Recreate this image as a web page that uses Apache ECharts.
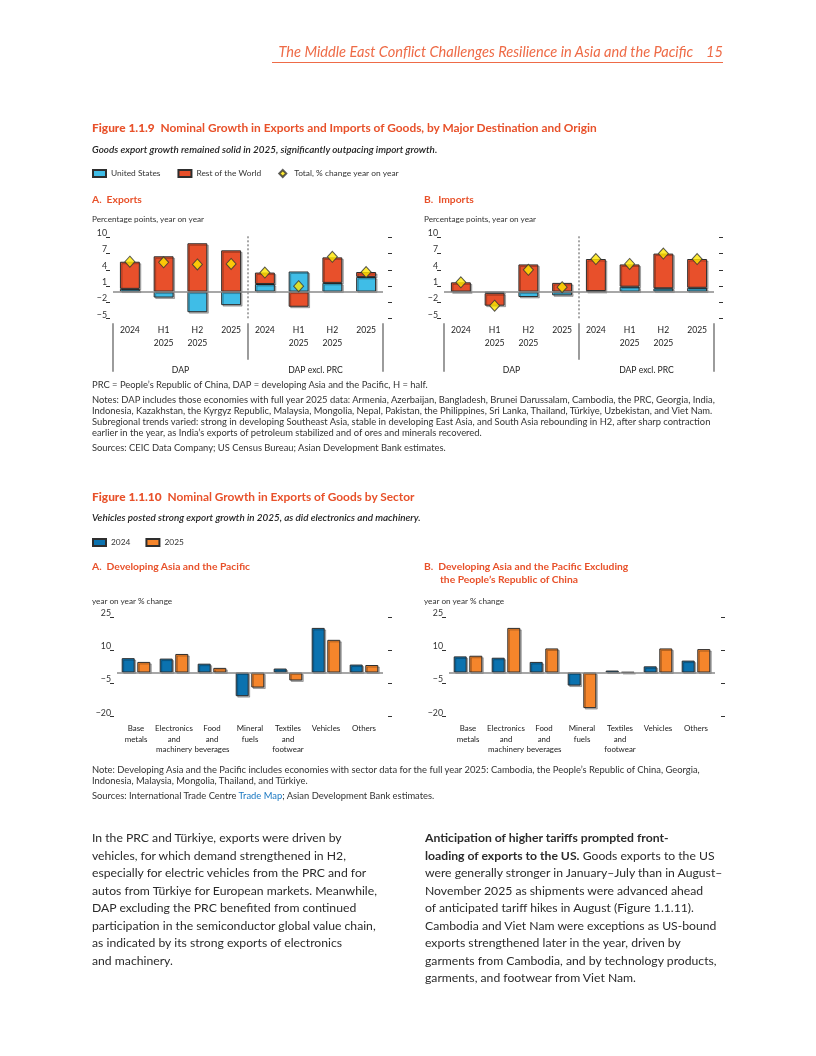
<!DOCTYPE html>
<html>
<head>
<meta charset="utf-8">
<script src="https://cdn.jsdelivr.net/npm/echarts@6/dist/echarts.min.js"></script>
<style>
  html,body{margin:0;padding:0;background:#fff;}
  #page{position:relative;width:816px;height:1056px;overflow:hidden;font-family:Lato,"Open Sans",sans-serif;}
  #chart{position:absolute;left:0;top:0;width:816px;height:1056px;}
  .t{position:absolute;white-space:nowrap;color:#333;line-height:1;z-index:2;}
  .hdr{right:93px;top:45px;font-size:14.6px;font-style:italic;color:#EE6B47;}
  .hline{position:absolute;left:272px;top:62px;width:451px;height:1px;background:#EE6B47;z-index:2;}
  .ftitle{font-size:11.9px;font-weight:700;color:#E8512A;}
  .ftitle b{font-weight:900;}
  .fsub{font-size:9.9px;font-style:italic;font-weight:600;color:#222;}
  .ptitle{font-size:10.3px;font-weight:700;color:#E8512A;line-height:13px;}
  .aname{font-size:8.2px;color:#333;}
  .note{font-size:9.4px;color:#333;line-height:11px;}
  .note p{margin:0 0 4px 0;}
  .body{font-size:12.2px;color:#2b2b2b;line-height:17.5px;}
  .blue{color:#1a78c2;}
</style>
</head>
<body>
<div id="page">
  <div id="chart"></div>
  <div class="t hdr">The Middle East Conflict Challenges Resilience in Asia and the Pacific<span style="margin-left:13px">15</span></div>
  <div class="hline"></div>

  <div class="t ftitle" style="left:92px;top:122px;"><b>Figure 1.1.9</b>&nbsp; Nominal Growth in Exports and Imports of Goods, by Major Destination and Origin</div>
  <div class="t fsub" style="left:92px;top:145px;">Goods export growth remained solid in 2025, significantly outpacing import growth.</div>
  <div class="t ptitle" style="left:92px;top:193px;">A.&nbsp; Exports</div>
  <div class="t ptitle" style="left:424px;top:193px;">B.&nbsp; Imports</div>
  <div class="t aname" style="left:92px;top:215px;">Percentage points, year on year</div>
  <div class="t aname" style="left:424px;top:215px;">Percentage points, year on year</div>

  <div class="t note" style="left:92px;top:379px;">
    <p>PRC = People’s Republic of China, DAP = developing Asia and the Pacific, H = half.</p>
    <p>Notes: DAP includes those economies with full year 2025 data: Armenia, Azerbaijan, Bangladesh, Brunei Darussalam, Cambodia, the PRC, Georgia, India,<br>Indonesia, Kazakhstan, the Kyrgyz Republic, Malaysia, Mongolia, Nepal, Pakistan, the Philippines, Sri Lanka, Thailand, Türkiye, Uzbekistan, and Viet Nam.<br>Subregional trends varied: strong in developing Southeast Asia, stable in developing East Asia, and South Asia rebounding in H2, after sharp contraction<br>earlier in the year, as India’s exports of petroleum stabilized and of ores and minerals recovered.</p>
    <p>Sources: CEIC Data Company; US Census Bureau; Asian Development Bank estimates.</p>
  </div>

  <div class="t ftitle" style="left:92px;top:491px;"><b>Figure 1.1.10</b>&nbsp; Nominal Growth in Exports of Goods by Sector</div>
  <div class="t fsub" style="left:92px;top:513px;">Vehicles posted strong export growth in 2025, as did electronics and machinery.</div>
  <div class="t ptitle" style="left:92px;top:560px;">A.&nbsp; Developing Asia and the Pacific</div>
  <div class="t ptitle" style="left:424px;top:560px;">B.&nbsp; Developing Asia and the Pacific Excluding<br><span style="margin-left:16px">the People’s Republic of China</span></div>
  <div class="t aname" style="left:92px;top:597px;">year on year % change</div>
  <div class="t aname" style="left:424px;top:597px;">year on year % change</div>

  <div class="t note" style="left:92px;top:764px;">
    <p>Note: Developing Asia and the Pacific includes economies with sector data for the full year 2025: Cambodia, the People’s Republic of China, Georgia,<br>Indonesia, Malaysia, Mongolia, Thailand, and Türkiye.</p>
    <p>Sources: International Trade Centre <span class="blue">Trade Map</span>; Asian Development Bank estimates.</p>
  </div>

  <div class="t body" style="left:92px;top:829px;">In the PRC and Türkiye, exports were driven by<br>vehicles, for which demand strengthened in H2,<br>especially for electric vehicles from the PRC and for<br>autos from Türkiye for European markets. Meanwhile,<br>DAP excluding the PRC benefited from continued<br>participation in the semiconductor global value chain,<br>as indicated by its strong exports of electronics<br>and machinery.</div>
  <div class="t body" style="left:425px;top:829px;"><b>Anticipation of higher tariffs prompted front-<br>loading of exports to the US.</b> Goods exports to the US<br>were generally stronger in January–July than in August–<br>November 2025 as shipments were advanced ahead<br>of anticipated tariff hikes in August (Figure 1.1.11).<br>Cambodia and Viet Nam were exceptions as US-bound<br>exports strengthened later in the year, driven by<br>garments from Cambodia, and by technology products,<br>garments, and footwear from Viet Nam.</div>
</div>
<script>
// ---- Figure 1.1.9 data ----
const periodCats = ['2024','H1\n2025','H2\n2025','2025','2024','H1\n2025','H2\n2025','2025'];
const groupCats = ['DAP','DAP excl. PRC'];
const expUS    = [0.5, -1.1, -3.8, -2.5, 1.4, 3.7, 1.6, 2.7];
const expROW   = [5.0,  6.5,  8.9,  7.6, 2.1, -2.8, 4.7, 0.9];
const expTotal = [5.5,  5.4,  5.0,  5.1, 3.5, 1.0, 6.4, 3.6];
const impUS    = [0.0, -0.3, -1.0, -0.7, 0.1, 0.9, 0.6, 0.7];
const impROW   = [1.7, -2.3,  5.0,  1.6, 5.9, 4.1, 6.4, 5.3];
const impTotal = [1.7, -2.6,  4.0,  0.8, 6.0, 5.1, 7.0, 6.0];
const growthTicks = {min:-5, max:10, interval:3};

// ---- Figure 1.1.10 data ----
const sectorCats = ['Base\nmetals','Electronics\nand\nmachinery','Food\nand\nbeverages','Mineral\nfuels','Textiles\nand\nfootwear','Vehicles','Others'];
const dap2024   = [6.5, 6.3, 4.0, -10.7, 1.8, 20.2, 3.6];
const dap2025   = [4.8, 8.4, 2.1,  -6.8, -3.6, 14.8, 3.4];
const exPRC2024 = [7.3, 6.7, 4.8,  -5.9, 0.9, 2.8, 5.4];
const exPRC2025 = [7.6, 20.2, 10.9, -16.1, 0.2, 10.9, 10.6];
const sectorTicks = {min:-20, max:25, interval:15};

const C_US = '#3FBDE7', C_ROW = '#E8502B', C_TOT = '#FFE600';
const C_24 = '#0B72AF', C_25 = '#F5852B';
const FONT = 'Lato, "Open Sans", sans-serif';

const chart = echarts.init(document.getElementById('chart'), null, {renderer:'canvas'});

const grids = [
  {left:113, top:237.3, width:270, height:81.4},
  {left:444, top:237.3, width:270, height:81.4},
  {left:117, top:617.3, width:266, height:99.4},
  {left:449, top:617.3, width:266, height:99.4}
];
const minusFmt = (v)=> String(v).replace('-', '\u2212');

function yPair(g, t, rOff){
  return [
    {type:'value', gridIndex:g, min:t.min, max:t.max, interval:t.interval, position:'left', offset:3,
     axisLine:{show:false}, axisTick:{show:true, length:4, lineStyle:{color:'#333', width:1}},
     axisLabel:{color:'#333', fontSize:8.8, margin:2, verticalAlign:'bottom', lineHeight:10, padding:[0,1,-1,0], formatter:minusFmt, fontFamily:FONT}, splitLine:{show:false}},
    {type:'value', gridIndex:g, min:t.min, max:t.max, interval:t.interval, position:'right', offset:rOff,
     axisLine:{show:false}, axisTick:{show:true, length:4, lineStyle:{color:'#333', width:1}},
     axisLabel:{show:false}, splitLine:{show:false}}
  ];
}
function xPeriod(g){
  return {type:'category', gridIndex:g, data:periodCats, position:'bottom',
    axisLine:{show:false}, axisTick:{show:false},
    axisLabel:{interval:0, color:'#222', fontSize:8.6, lineHeight:13, margin:5, fontFamily:FONT},
    splitLine:{show:false}};
}
function xGroup(g){
  return {type:'category', gridIndex:g, data:groupCats, position:'bottom', offset:4,
    axisLine:{show:false}, axisTick:{show:false},
    axisLabel:{interval:0, color:'#222', fontSize:8.6, margin:43, fontFamily:FONT}};
}
function xSector(g){
  return {type:'category', gridIndex:g, data:sectorCats, position:'bottom',
    axisLine:{show:false}, axisTick:{show:false},
    axisLabel:{interval:0, color:'#222', fontSize:7.9, lineHeight:10.5, margin:7, fontFamily:FONT}};
}
const zeroLine = {silent:true, symbol:'none', label:{show:false}, lineStyle:{color:'#8a8a8a', width:1.5, type:'solid'}, data:[{yAxis:0}]};
const barStyle = (c)=>({color:c, borderColor:'#2e2e2e', borderWidth:1, shadowColor:'rgba(0,0,0,0.28)', shadowBlur:0, shadowOffsetX:1.5, shadowOffsetY:1.5});

function stackSeries(xi, yi, us, row, tot, stack){
  return [
    {name:'United States', type:'bar', xAxisIndex:xi, yAxisIndex:yi, stack:stack, data:us, barWidth:'59%', itemStyle:barStyle(C_US), markLine:zeroLine, z:2},
    {name:'Rest of the World', type:'bar', xAxisIndex:xi, yAxisIndex:yi, stack:stack, data:row, barWidth:'59%', itemStyle:barStyle(C_ROW), z:2},
    {name:'Total, % change year on year', type:'scatter', xAxisIndex:xi, yAxisIndex:yi, data:tot, symbol:'diamond', symbolSize:[10,11],
     itemStyle:{color:C_TOT, borderColor:'#333', borderWidth:1}, z:5}
  ];
}
function sectorSeries(xi, yi, a, b){
  return [
    {name:'2024', type:'bar', xAxisIndex:xi, yAxisIndex:yi, data:a, barWidth:13, barGap:'20%', itemStyle:barStyle(C_24), markLine:zeroLine},
    {name:'2025', type:'bar', xAxisIndex:xi, yAxisIndex:yi, data:b, barWidth:13, barGap:'20%', itemStyle:barStyle(C_25)}
  ];
}

const option = {
  animation:false,
  textStyle:{fontFamily:FONT},
  grid:grids,
  legend:[
    {left:92, top:169, itemWidth:13, itemHeight:7, itemGap:17, padding:0,
     textStyle:{fontSize:8.4, color:'#333', fontFamily:FONT},
     data:[{name:'United States', icon:'rect'},{name:'Rest of the World', icon:'rect'},
           {name:'Total, % change year on year', icon:'path://M5,0 L10,5 L5,10 L0,5 Z'}]},
    {left:92, top:538, itemWidth:13, itemHeight:7, itemGap:15, padding:0,
     textStyle:{fontSize:8.4, color:'#333', fontFamily:FONT},
     data:[{name:'2024', icon:'rect'},{name:'2025', icon:'rect'}]}
  ],
  xAxis:[xPeriod(0), xGroup(0), xPeriod(1), xGroup(1), xSector(2), xSector(3)],
  yAxis:[].concat(yPair(0, growthTicks, 5), yPair(1, growthTicks, 5), yPair(2, sectorTicks, 5), yPair(3, sectorTicks, 6)),
  series:[].concat(
    stackSeries(0, 0, expUS, expROW, expTotal, 'exp'),
    stackSeries(2, 2, impUS, impROW, impTotal, 'imp'),
    sectorSeries(4, 4, dap2024, dap2025),
    sectorSeries(5, 6, exPRC2024, exPRC2025)
  )
};
chart.setOption(option);

// Group separators (dotted divider in plot, solid brackets below), placed from the axes' own scales
function separators(xAxisIndex, yAxisIndex){
  const n = periodCats.length, half = n/2;
  const p0 = chart.convertToPixel({xAxisIndex:xAxisIndex}, 0);
  const p1 = chart.convertToPixel({xAxisIndex:xAxisIndex}, 1);
  const band = p1 - p0;
  const xl = p0 - band/2;
  const xm = chart.convertToPixel({xAxisIndex:xAxisIndex}, half) - band/2;
  const xr = chart.convertToPixel({xAxisIndex:xAxisIndex}, n-1) + band/2;
  const yTop = chart.convertToPixel({yAxisIndex:yAxisIndex}, growthTicks.max);
  const yBot = chart.convertToPixel({yAxisIndex:yAxisIndex}, growthTicks.min);
  const solid = {stroke:'#666', lineWidth:1.3};
  return [
    {type:'line', shape:{x1:xm, y1:yTop-1, x2:xm, y2:yBot+1}, style:{stroke:'#8a8a8a', lineWidth:1.5, lineDash:[2,2]}, silent:true, z:1},
    {type:'line', shape:{x1:xl, y1:yBot+4.5, x2:xl, y2:yBot+53}, style:solid, silent:true},
    {type:'line', shape:{x1:xm, y1:yBot+4.5, x2:xm, y2:yBot+41}, style:solid, silent:true},
    {type:'line', shape:{x1:xr, y1:yBot+4.5, x2:xr, y2:yBot+53}, style:solid, silent:true}
  ];
}
chart.setOption({graphic:{elements:[].concat(separators(0,0), separators(2,2))}});
</script>
</body>
</html>
